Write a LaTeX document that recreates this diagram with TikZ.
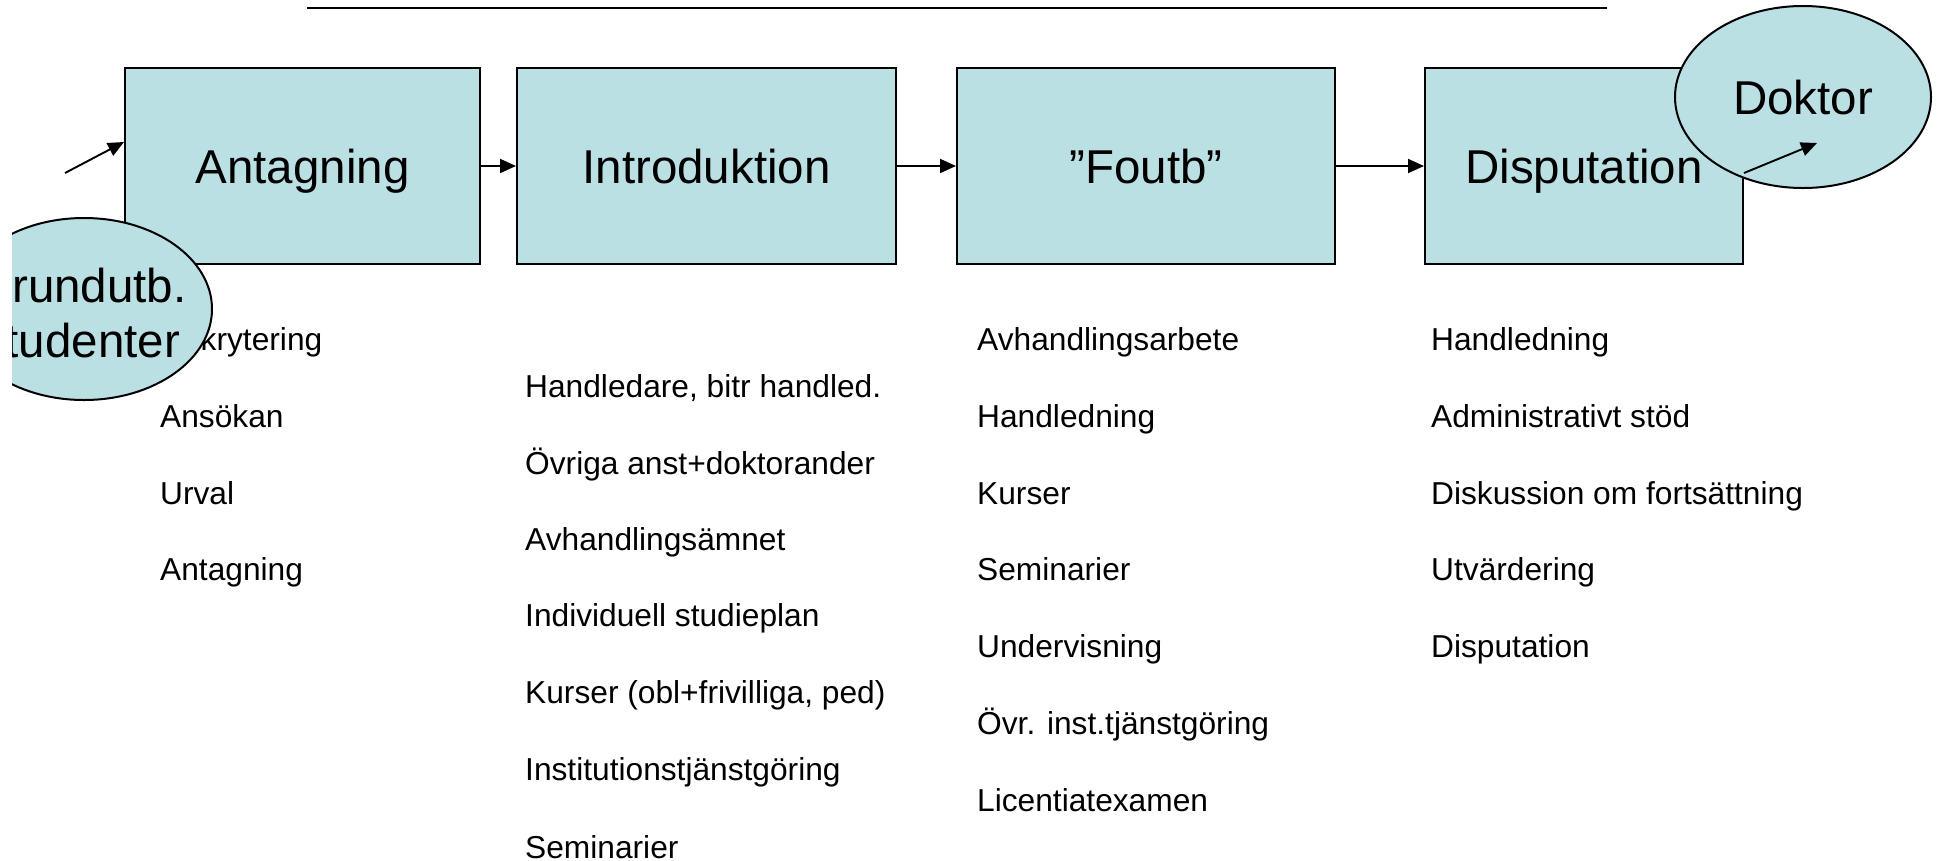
\documentclass[tikz,border=0pt]{standalone}
\usepackage{fontspec}
\setmainfont{Liberation Sans}
\usetikzlibrary{arrows.meta,shapes.geometric,calc}
\definecolor{boxfill}{RGB}{186,224,228}
\begin{document}
\begin{tikzpicture}[x=1pt,y=-1pt,
  stagebox/.style={draw=black,line width=2pt,fill=boxfill,rectangle,minimum height=196pt,inner sep=0pt,font=\fontsize{47.5}{56}\selectfont,text height=34pt,text depth=0pt},
  blob/.style={draw=black,line width=2pt,fill=boxfill,ellipse,minimum width=256pt,minimum height=182pt,inner sep=0pt},
  bigtext/.style={font=\fontsize{47.5}{55}\selectfont,inner sep=0pt,align=center},
  item/.style={anchor=west,inner sep=0pt,font=\fontsize{31.7}{38}\selectfont,text height=22.7pt,text depth=0pt},
  flow/.style={line width=1.9pt,-{Triangle[length=16pt,width=14pt]}}
]
\useasboundingbox (0,0) rectangle (1941,860);

% top rule
\coordinate (ruleL) at (307,7.5);
\coordinate (ruleR) at (1607,7.5);
\draw[line width=2pt] (ruleL) -- (ruleR);

% stage boxes
\node[stagebox,minimum width=355pt] (box1) at (302.5,166) {Antagning};
\node[stagebox,minimum width=379pt] (box2) at (706.5,166) {Introduktion};
\node[stagebox,minimum width=378pt] (box3) at (1146,166) {”Foutb”};
\node[stagebox,minimum width=318pt] (box4) at (1584,166) {Disputation};

\draw[flow] (box1) -- (box2);
\draw[flow] (box2) -- (box3);
\draw[flow] (box3) -- (box4);

% incoming arrow
\coordinate (inStart) at (65,173);
\draw[flow] (inStart) -- ($(box1.north west)+(0,75)$);

% column 1
\node[item] (c1a) at (160,339) {Rekrytering};
\node[item] (c1b) at (160,416) {Ansökan};
\node[item] (c1c) at (160,493) {Urval};
\node[item] (c1d) at (160,569) {Antagning};

% column 2
\node[item] (c2a) at (525,386) {Handledare, bitr handled.};
\node[item] (c2b) at (525,463) {Övriga anst+doktorander};
\node[item] (c2c) at (525,539) {Avhandlingsämnet};
\node[item] (c2d) at (525,615) {Individuell studieplan};
\node[item] (c2e) at (525,692) {Kurser (obl+frivilliga, ped)};
\node[item] (c2f) at (525,769) {Institutionstjänstgöring};
\node[item] (c2g) at (525,847) {Seminarier};

% column 3
\node[item] (c3a) at (977,339) {Avhandlingsarbete};
\node[item] (c3b) at (977,416) {Handledning};
\node[item] (c3c) at (977,493) {Kurser};
\node[item] (c3d) at (977,569) {Seminarier};
\node[item] (c3e) at (977,646) {Undervisning};
\node[item] (c3f) at (977,723) {Övr. inst.tjänstgöring};
\node[item] (c3g) at (977,800) {Licentiatexamen};

% column 4
\node[item] (c4a) at (1431,339) {Handledning};
\node[item] (c4b) at (1431,416) {Administrativt stöd};
\node[item] (c4c) at (1431,493) {Diskussion om fortsättning};
\node[item] (c4d) at (1431,569) {Utvärdering};
\node[item] (c4e) at (1431,646) {Disputation};

% left ellipse, clipped at the left edge
\begin{scope}
\clip (12,0) rectangle (1941,860);
\node[blob] (grund) at (84,309) {};
\node[bigtext] (grundtext) at (81,313) {Grundutb.\\studenter};
\end{scope}

% Doktor ellipse
\node[blob,font=\fontsize{47.5}{56}\selectfont,text height=34pt,text depth=0pt] (doktor) at (1803,97) {Doktor};
\coordinate (outEnd) at (1817,143);
\draw[flow] ($(box4.east)+(0,7)$) -- (outEnd);
\end{tikzpicture}
\end{document}
